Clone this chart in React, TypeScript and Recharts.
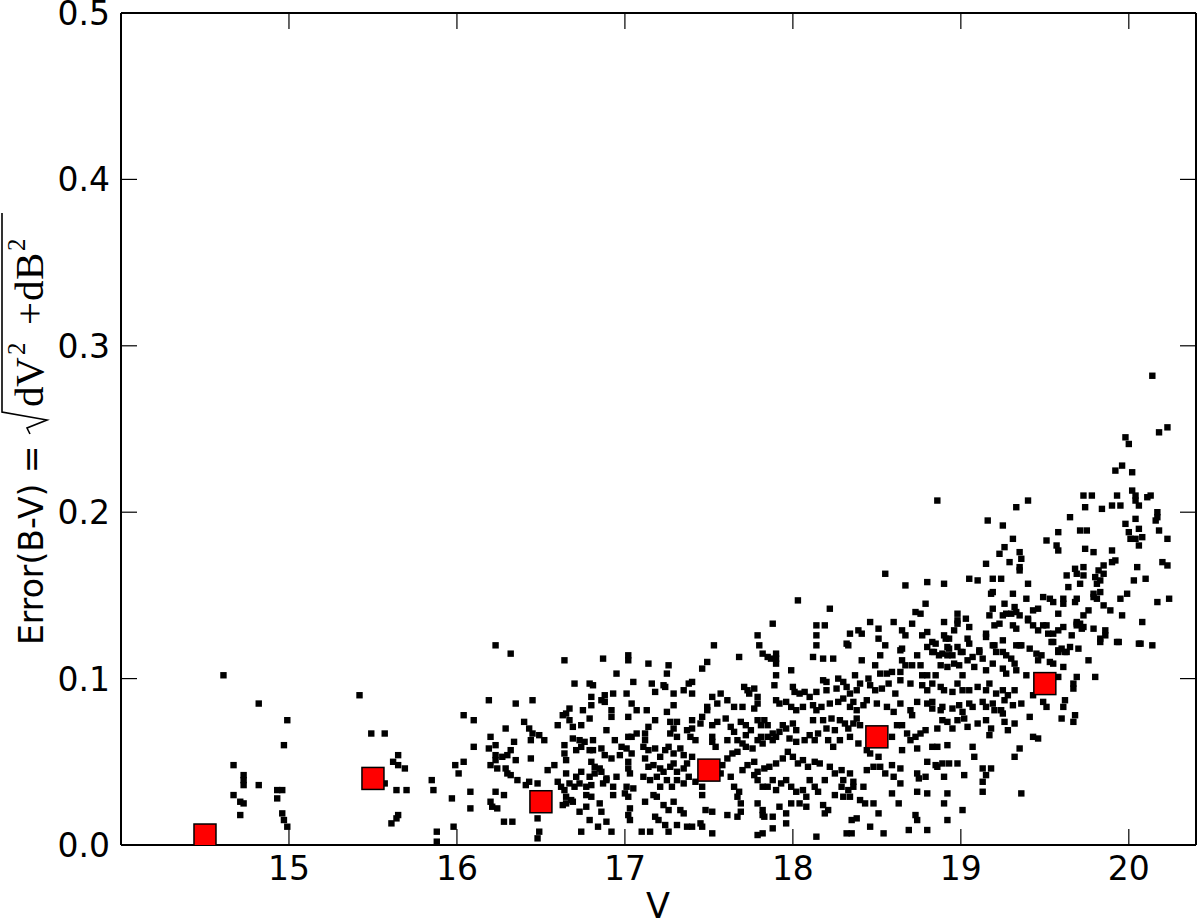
import { ScatterChart, Scatter, XAxis, YAxis, Label } from 'recharts'

const FONT = 'DejaVu Sans'
const SERIF = 'Liberation Serif'

// axis ranges / ticks
const V_DOMAIN: [number, number] = [14, 20.4]
const ERR_DOMAIN: [number, number] = [0, 0.5]
const V_TICKS = [15, 16, 17, 18, 19, 20]
const ERR_TICKS = [0, 0.1, 0.2, 0.3, 0.4, 0.5]

// binned means (red squares)
const MEAN_V = [14.5, 15.5, 16.5, 17.5, 18.5, 19.5]
const MEAN_ERR = [0.006, 0.04, 0.026, 0.045, 0.065, 0.097]

// individual stars: [V, error(B-V)]
const STARS_V14_16: [number, number][] = [
  [14.61, .102], [14.82, .085], [14.99, .075], [14.97, .060], [14.67, .048], [14.73, .042], [14.73, .039],
  [14.73, .036], [14.82, .036], [14.67, .030], [14.71, .026], [14.73, .025], [14.71, .018], [14.93, .033],
  [14.96, .033], [14.93, .028], [14.96, .019], [14.97, .015], [14.99, .011], [15.42, .090], [15.49, .067],
  [15.57, .067], [15.65, .054], [15.62, .050], [15.65, .048], [15.69, .046], [15.57, .037], [15.64, .033],
  [15.70, .033], [15.65, .018], [15.64, .016], [15.61, .013], [15.88, .008], [15.88, .002], [15.98, .011],
  [15.85, .039], [15.86, .033], [15.97, .028], [15.99, .048], [16.01, .043],
]

const STARS_V16_17: [number, number][] = [
  [16.23, .120], [16.32, .115], [16.64, .111], [16.87, .112], [16.19, .087], [16.35, .085], [16.45, .087],
  [16.04, .078], [16.10, .075], [16.40, .074], [16.29, .070], [16.43, .070], [16.45, .067], [16.20, .065],
  [16.49, .066], [16.52, .063], [16.34, .062], [16.44, .063], [16.10, .059], [16.19, .058], [16.23, .060],
  [16.32, .057], [16.30, .054], [16.27, .053], [16.23, .054], [16.23, .051], [16.35, .051], [16.44, .052],
  [16.04, .050], [16.20, .048], [16.24, .046], [16.29, .046], [16.30, .043], [16.32, .042], [16.54, .045],
  [16.58, .048], [16.36, .039], [16.41, .036], [16.43, .038], [16.48, .037], [16.08, .032], [16.23, .032],
  [16.28, .030], [16.20, .026], [16.21, .023], [16.24, .022], [16.08, .022], [16.28, .014], [16.33, .014],
  [16.48, .016], [16.49, .008], [16.48, .004],
  [16.95, .103], [16.70, .097], [16.79, .097], [16.81, .096], [16.80, .089], [16.88, .090], [16.93, .091],
  [16.86, .087], [16.88, .086], [16.80, .084], [16.75, .081], [16.92, .081], [16.67, .082], [16.65, .079],
  [16.63, .078], [16.79, .076], [16.92, .077], [16.67, .075], [16.69, .071], [16.60, .072], [16.74, .072],
  [16.89, .069], [16.69, .064], [16.73, .063], [16.76, .062], [16.81, .063], [16.74, .059], [16.71, .057],
  [16.94, .063], [16.98, .059], [16.64, .060], [16.64, .055], [16.65, .051], [16.79, .057], [16.81, .057],
  [16.86, .058], [16.88, .054], [16.92, .052], [16.97, .054], [16.80, .050], [16.82, .047], [16.85, .046],
  [16.86, .044], [16.65, .043], [16.71, .041], [16.74, .044], [16.79, .041], [16.82, .043], [16.89, .040],
  [16.95, .041], [16.60, .038], [16.62, .035], [16.64, .033], [16.67, .037], [16.70, .035], [16.73, .037],
  [16.77, .035], [16.80, .036], [16.87, .037], [16.89, .039], [16.93, .035], [16.65, .029], [16.68, .027],
  [16.77, .030], [16.80, .029], [16.93, .030], [16.63, .024], [16.65, .025], [16.69, .026], [16.77, .023],
  [16.85, .025], [16.73, .020], [16.86, .020], [16.79, .015], [16.84, .011], [16.89, .014], [16.92, .008],
  [16.74, .008],
  [17.02, .114], [17.02, .111], [17.05, .098], [17.01, .091], [17.04, .085], [17.07, .081], [17.02, .077],
  [17.04, .065], [17.02, .065], [17.07, .067], [17.01, .058], [17.04, .055], [17.02, .050], [17.02, .046],
  [17.03, .043], [17.01, .035], [17.05, .034], [17.00, .031], [17.02, .029], [17.03, .022], [17.02, .018],
  [17.03, .015],
]

const STARS_V17_18: [number, number][] = [
  [17.53, .120], [17.79, .126], [17.88, .133], [18.03, .147], [17.80, .120], [17.82, .115], [17.85, .113],
  [17.90, .115], [17.90, .112], [17.87, .112], [17.68, .113], [17.14, .109], [17.26, .108], [17.25, .103],
  [17.49, .110], [17.46, .106], [17.90, .109], [17.99, .105], [17.90, .102], [17.16, .097], [17.18, .092],
  [17.23, .096], [17.24, .095], [17.29, .091], [17.35, .093], [17.38, .097], [17.40, .098], [17.40, .091],
  [17.57, .091], [17.52, .089], [17.55, .085], [17.49, .083], [17.49, .081], [17.61, .087], [17.65, .083],
  [17.70, .083], [17.71, .095], [17.73, .093], [17.74, .091], [17.77, .094], [17.79, .089], [17.79, .085],
  [17.77, .082], [17.89, .096], [17.90, .087], [17.92, .085], [18.00, .095], [18.01, .092], [18.04, .091],
  [18.07, .092], [18.10, .089], [17.96, .086], [17.99, .083], [18.02, .081], [18.06, .083], [17.13, .081],
  [17.25, .080], [17.29, .084], [17.18, .075], [17.14, .071], [17.12, .067], [17.12, .063], [17.27, .074],
  [17.29, .070], [17.31, .074], [17.31, .065], [17.27, .067], [17.40, .075], [17.45, .073], [17.46, .077],
  [17.40, .070], [17.37, .069], [17.39, .065], [17.42, .063], [17.52, .072], [17.55, .074], [17.52, .065],
  [17.52, .062], [17.54, .059], [17.60, .076], [17.63, .071], [17.65, .068], [17.61, .063], [17.67, .063],
  [17.69, .074], [17.72, .072], [17.75, .069], [17.72, .066], [17.70, .061], [17.72, .059], [17.76, .058],
  [17.79, .075], [17.81, .072], [17.83, .075], [17.85, .072], [17.88, .067], [17.85, .065], [17.81, .065],
  [17.79, .063], [17.82, .061], [17.88, .063], [17.90, .065], [17.92, .068], [17.94, .072], [17.96, .070],
  [18.00, .073], [18.02, .069], [17.98, .064], [18.02, .062], [18.07, .063], [18.10, .066], [18.13, .063],
  [18.15, .067], [18.12, .075], [17.11, .059], [17.14, .057], [17.18, .058], [17.21, .053], [17.24, .057],
  [17.26, .059], [17.29, .055], [17.33, .058], [17.35, .054], [17.12, .052], [17.14, .047], [17.17, .048],
  [17.21, .046], [17.23, .044], [17.27, .047], [17.29, .049], [17.31, .044], [17.35, .046], [17.37, .049],
  [17.40, .053], [17.58, .048], [17.57, .043], [17.61, .052], [17.64, .055], [17.67, .056], [17.70, .045],
  [17.73, .048], [17.77, .050], [17.79, .044], [17.83, .046], [17.86, .047], [17.90, .049], [17.94, .052],
  [17.97, .056], [18.00, .053], [18.03, .049], [18.06, .051], [18.09, .047], [18.13, .050], [17.11, .041],
  [17.15, .039], [17.19, .041], [17.21, .035], [17.25, .039], [17.28, .035], [17.31, .039], [17.35, .037],
  [17.38, .041], [17.42, .038], [17.46, .030], [17.46, .035], [17.63, .041], [17.65, .035], [17.68, .032],
  [17.67, .029], [17.69, .025], [17.77, .042], [17.79, .039], [17.82, .035], [17.85, .035], [17.88, .039],
  [17.90, .033], [17.93, .037], [17.96, .039], [17.99, .035], [18.02, .032], [18.06, .033], [18.10, .039],
  [18.13, .035], [18.15, .032], [18.08, .029], [17.12, .026], [17.17, .030], [17.19, .029], [17.23, .024],
  [17.26, .021], [17.29, .026], [17.33, .021], [17.35, .019], [17.18, .017], [17.20, .015], [17.24, .012],
  [17.26, .008], [17.31, .012], [17.37, .011], [17.40, .011], [17.45, .013], [17.46, .011], [17.48, .021],
  [17.52, .020], [17.61, .018], [17.67, .017], [17.69, .020], [17.79, .025], [17.82, .021], [17.82, .018],
  [17.83, .017], [17.88, .017], [17.92, .023], [17.96, .019], [17.99, .025], [18.04, .025], [18.08, .023],
  [17.10, .008], [17.15, .008], [17.52, .007], [17.79, .006], [17.82, .007], [17.88, .010], [17.96, .013],
  [18.14, .005], [18.14, .132], [18.14, .126], [18.14, .120], [18.12, .113], [18.14, .092], [18.12, .084],
  [18.14, .081],
]

const STARS_V18_19: [number, number][] = [
  [18.33, .120], [18.52, .114], [18.55, .120], [18.64, .117], [18.65, .111], [18.74, .114], [18.80, .119],
  [18.83, .116], [18.85, .121], [18.89, .115], [18.92, .119], [18.95, .114], [18.98, .119], [19.01, .116],
  [19.04, .111], [19.07, .113], [19.11, .116], [19.13, .112], [19.19, .120], [19.21, .116], [18.18, .112],
  [18.24, .112], [18.41, .111], [18.49, .108], [18.52, .103], [18.56, .103], [18.59, .104], [18.64, .104],
  [18.67, .108], [18.71, .108], [18.76, .108], [18.77, .102], [18.80, .102], [18.85, .102], [18.88, .108],
  [18.92, .107], [18.96, .109], [18.99, .108], [19.01, .102], [19.08, .107], [19.15, .105], [19.19, .109],
  [18.18, .099], [18.20, .098], [18.27, .100], [18.30, .098], [18.37, .102], [18.40, .097], [18.45, .100],
  [18.46, .096], [18.49, .093], [18.53, .094], [18.57, .097], [18.64, .099], [18.70, .097], [18.77, .096],
  [18.80, .093], [18.83, .097], [18.88, .095], [18.90, .093], [18.95, .092], [18.98, .097], [19.01, .093],
  [19.05, .093], [19.10, .095], [19.15, .093], [19.17, .097], [19.21, .091], [18.20, .093], [18.26, .094],
  [18.32, .095], [18.34, .091], [18.38, .093], [18.17, .083], [18.22, .085], [18.27, .086], [18.30, .088],
  [18.34, .083], [18.36, .086], [18.38, .081], [18.42, .084], [18.44, .087], [18.50, .085], [18.56, .083],
  [18.61, .091], [18.64, .085], [18.60, .080], [18.70, .081], [18.71, .078], [18.74, .086], [18.80, .085],
  [18.83, .086], [18.83, .082], [18.88, .081], [18.89, .083], [18.95, .082], [18.99, .084], [19.01, .080],
  [19.05, .085], [19.07, .083], [19.13, .086], [19.15, .083], [19.19, .085], [19.20, .081], [18.18, .075],
  [18.23, .076], [18.28, .075], [18.31, .073], [18.33, .070], [18.36, .073], [18.38, .076], [18.40, .072],
  [18.20, .070], [18.25, .069], [18.21, .063], [18.24, .059], [18.28, .063], [18.34, .065], [18.39, .061],
  [18.44, .057], [18.46, .055], [18.51, .053], [18.59, .065], [18.62, .072], [18.65, .072], [18.68, .067],
  [18.70, .063], [18.73, .065], [18.76, .067], [18.79, .069], [18.65, .057], [18.74, .058], [18.86, .070],
  [18.89, .075], [18.92, .074], [18.95, .070], [18.98, .075], [19.02, .076], [19.04, .071], [19.10, .073],
  [19.15, .075], [19.18, .070], [18.83, .059], [18.86, .059], [18.92, .060], [19.07, .059], [19.08, .053],
  [19.17, .066], [18.16, .049], [18.19, .039], [18.22, .047], [18.25, .043], [18.29, .045], [18.30, .039],
  [18.34, .043], [18.36, .038], [18.29, .035], [18.33, .033], [18.36, .035], [18.42, .035], [18.44, .045],
  [18.48, .047], [18.52, .047], [18.55, .043], [18.59, .048], [18.64, .046], [18.60, .041], [18.64, .037],
  [18.74, .043], [18.75, .040], [18.80, .050], [18.85, .048], [18.86, .047], [18.89, .049], [18.93, .049],
  [18.98, .049], [18.90, .041], [18.79, .041], [19.02, .042], [19.13, .046], [19.18, .046], [19.15, .042],
  [19.13, .038], [19.13, .032], [18.59, .031], [18.63, .025], [18.74, .032], [18.80, .031], [18.92, .031],
  [18.90, .025], [18.25, .030], [18.30, .029], [18.34, .029], [18.40, .027], [18.43, .025], [18.48, .025],
  [18.18, .024], [18.21, .021], [18.19, .019], [18.35, .015], [18.38, .016], [18.46, .011], [18.51, .019],
  [18.54, .007], [18.32, .007], [18.35, .007], [18.69, .009], [18.73, .018], [18.74, .015], [18.80, .009],
  [18.92, .015], [19.01, .021],
  [18.86, .207], [19.16, .195], [19.15, .169], [18.90, .157], [18.80, .158], [18.67, .156], [18.55, .163],
  [18.22, .142], [18.19, .132], [18.46, .134], [18.60, .134], [18.71, .133], [18.79, .145], [18.73, .140],
  [18.76, .139], [18.34, .127], [18.39, .129], [18.41, .127], [18.51, .130], [18.51, .124], [18.65, .129],
  [18.67, .126], [18.65, .118], [18.77, .126], [18.80, .128], [18.83, .122], [18.32, .121], [18.90, .134],
  [18.98, .139], [18.98, .135], [18.98, .133], [19.03, .136], [19.05, .131], [18.96, .129], [18.90, .126],
  [18.91, .124], [18.93, .124], [18.93, .118], [18.84, .116], [18.87, .114], [18.92, .114], [19.00, .116],
  [19.04, .124], [19.05, .121], [19.11, .117], [19.05, .160], [19.10, .159], [19.19, .160], [19.18, .151],
  [19.19, .152], [19.19, .142], [19.17, .138], [19.15, .127], [19.15, .125], [19.20, .132],
]

const STARS_V19_21: [number, number][] = [
  [19.33, .203], [19.40, .207], [19.25, .192], [19.31, .184], [19.26, .179], [19.23, .175], [19.35, .176],
  [19.36, .172], [19.35, .167], [19.35, .165], [19.29, .170], [19.73, .210], [19.78, .210], [19.74, .203],
  [19.84, .202], [19.90, .204], [19.95, .204], [19.93, .210], [20.02, .213], [20.04, .210], [20.04, .207],
  [20.06, .204], [20.11, .209], [20.13, .210], [19.92, .225], [20.02, .224], [19.96, .228], [19.98, .245],
  [20.00, .241], [20.14, .282], [20.23, .251], [20.18, .248], [20.17, .200], [20.17, .197], [20.16, .195],
  [20.18, .189], [20.23, .184], [19.65, .197], [19.71, .189], [19.75, .189], [19.58, .188], [19.51, .183],
  [19.57, .180], [19.58, .177], [19.74, .178], [19.79, .176], [19.98, .193], [20.00, .188], [20.04, .196],
  [20.06, .190], [20.01, .184], [20.04, .184], [20.08, .185], [20.06, .180], [19.90, .177], [19.92, .171],
  [19.90, .170], [20.20, .170], [20.23, .168], [20.05, .167], [19.85, .168], [19.82, .165], [19.85, .163],
  [19.80, .161], [19.83, .159], [19.81, .157], [19.68, .166], [19.73, .167], [19.73, .162], [19.69, .163],
  [19.63, .162], [19.71, .157], [19.64, .155], [19.40, .157], [20.03, .159], [20.10, .160], [19.99, .151],
  [19.95, .148], [19.79, .151], [19.83, .152], [19.79, .149], [19.81, .148], [19.85, .144], [19.76, .141],
  [20.17, .146], [20.24, .148], [19.89, .141], [19.96, .138], [20.08, .134], [20.06, .121], [20.14, .120],
  [19.73, .138], [19.69, .133], [19.71, .133], [19.73, .131], [19.79, .130], [19.86, .129], [19.86, .126],
  [19.83, .124], [19.94, .122], [19.49, .149], [19.53, .148], [19.55, .146], [19.61, .148], [19.61, .145],
  [19.69, .148], [19.68, .146], [19.58, .139], [19.46, .142], [19.43, .141], [19.40, .136], [19.40, .135],
  [19.31, .151], [19.39, .148], [19.26, .145], [19.32, .143], [19.30, .139], [19.33, .140], [19.35, .138],
  [19.27, .139], [19.24, .160], [19.23, .133], [19.25, .138], [19.25, .123], [19.20, .120], [19.35, .120],
  [19.31, .132], [19.33, .130], [19.43, .132], [19.46, .129], [19.49, .132], [19.51, .132], [19.52, .127],
  [19.55, .127], [19.58, .129], [19.61, .131], [19.63, .116], [19.58, .116], [19.55, .122], [19.66, .126],
  [19.69, .134], [19.72, .130], [19.69, .132],
  [19.33, .120], [19.36, .120], [19.41, .118], [19.45, .115], [19.48, .114], [19.46, .111], [19.54, .122],
  [19.58, .117], [19.60, .118], [19.62, .116], [19.65, .119], [19.70, .118], [19.53, .110], [19.55, .109],
  [19.61, .107], [19.76, .111], [19.83, .122], [19.93, .122], [20.07, .121], [19.25, .116], [19.27, .114],
  [19.30, .112], [19.32, .109], [19.25, .106], [19.27, .103], [19.33, .105], [19.39, .102], [19.58, .101],
  [19.69, .101], [19.80, .101], [19.67, .097], [19.67, .094], [19.25, .093], [19.28, .090], [19.32, .093],
  [19.26, .087], [19.31, .084], [19.36, .085], [19.43, .090], [19.49, .086], [19.51, .083], [19.62, .087],
  [19.61, .083], [19.24, .081], [19.25, .079], [19.26, .074], [19.28, .069], [19.32, .073], [19.41, .077],
  [19.60, .076], [19.68, .078], [19.67, .074], [19.43, .065], [19.46, .064], [19.35, .058], [19.32, .053],
  [19.36, .031],
]

const stars = [...STARS_V14_16, ...STARS_V16_17, ...STARS_V17_18, ...STARS_V18_19, ...STARS_V19_21]
  .map(([v, err]) => ({ v, err }))
const means = MEAN_V.map((v, i) => ({ v, err: MEAN_ERR[i] }))

const TICK_LEN = 16
const FRAME = { stroke: '#000', strokeWidth: 2 }

// matplotlib style: ticks point into the plot
const BottomTick = ({ x, y, payload }: any) => (
  <g>
    <line x1={x} x2={x} y1={y} y2={y - TICK_LEN} stroke="#000" strokeWidth={1.2} />
    <text x={x} y={y + 35} textAnchor="middle" fontSize={33} fontFamily={FONT} fill="#000">
      {payload.value}
    </text>
  </g>
)

const TopTick = ({ x, y }: any) => (
  <line x1={x} x2={x} y1={y} y2={y + TICK_LEN} stroke="#000" strokeWidth={1.2} />
)

const LeftTick = ({ x, y, payload }: any) => (
  <g>
    <line x1={x} x2={x + TICK_LEN} y1={y} y2={y} stroke="#000" strokeWidth={1.2} />
    <text x={x - 11} y={y + 12} textAnchor="end" fontSize={33} fontFamily={FONT} fill="#000">
      {Number(payload.value).toFixed(1)}
    </text>
  </g>
)

const RightTick = ({ x, y }: any) => (
  <line x1={x} x2={x - TICK_LEN} y1={y} y2={y} stroke="#000" strokeWidth={1.2} />
)

const StarDot = ({ cx, cy }: any) => (
  <rect x={cx - 3.2} y={cy - 3.2} width={6.4} height={6.4} fill="#000" />
)

const MeanSquare = ({ cx, cy }: any) => (
  <rect x={cx - 11} y={cy - 11} width={22} height={22} fill="#ff0000" stroke="#000" strokeWidth={1.5} />
)

const Nothing = () => <g />

const XLabel = () => (
  <text x={658} y={918} textAnchor="middle" fontSize={35} fontFamily={FONT} fill="#000">V</text>
)

// Error(B-V) = sqrt(dV^2 + dB^2), rotated
const YLabel = () => (
  <g transform="translate(43,645) rotate(-90)" fill="#000">
    <text x={0} y={0} fontSize={33} fontFamily={FONT}>Error(B-V) =</text>
    <path d="M211,-13 L217,-16 L225,4 L233,-41 L432,-41" fill="none" stroke="#000" strokeWidth={1.6} />
    <g fontFamily={SERIF} fontSize={41}>
      <text x={238} y={0}>d</text>
      <text x={258} y={0}>V</text>
      <text x={290} y={-18} fontSize={25}>2</text>
      <text x={320} y={0}>+</text>
      <text x={344} y={0}>d</text>
      <text x={365} y={0}>B</text>
      <text x={394} y={-18} fontSize={25}>2</text>
    </g>
  </g>
)

export default function App() {
  return (
    <div style={{ position: 'absolute', left: 0, top: 0, width: 1200, height: 920, background: '#fff' }}>
      <ScatterChart width={1200} height={920} margin={{ top: 12, right: 3, bottom: 0, left: 0 }}>
        <XAxis
          dataKey="v" type="number" domain={V_DOMAIN} ticks={V_TICKS} interval={0} allowDataOverflow
          height={75} tickLine={false} tickSize={0} tickMargin={0} axisLine={FRAME} tick={BottomTick}
        >
          <Label content={XLabel} />
        </XAxis>
        <XAxis
          xAxisId="top" orientation="top" dataKey="v" type="number" domain={V_DOMAIN} ticks={V_TICKS}
          interval={0} allowDataOverflow height={1} tickLine={false} tickSize={0} tickMargin={0}
          axisLine={FRAME} tick={TopTick}
        />
        <YAxis
          dataKey="err" type="number" domain={ERR_DOMAIN} ticks={ERR_TICKS} interval={0} allowDataOverflow
          width={121} tickLine={false} tickSize={0} tickMargin={0} axisLine={FRAME} tick={LeftTick}
        >
          <Label content={YLabel} />
        </YAxis>
        <YAxis
          yAxisId="right" orientation="right" dataKey="err" type="number" domain={ERR_DOMAIN} ticks={ERR_TICKS}
          interval={0} allowDataOverflow width={1} tickLine={false} tickSize={0} tickMargin={0}
          axisLine={FRAME} tick={RightTick}
        />
        <Scatter data={stars} shape={StarDot} isAnimationActive={false} />
        <Scatter data={means} shape={MeanSquare} isAnimationActive={false} />
        {/* invisible series so the top and right frame axes get drawn */}
        <Scatter xAxisId="top" yAxisId="right" data={means} shape={Nothing} isAnimationActive={false} />
      </ScatterChart>
    </div>
  )
}
